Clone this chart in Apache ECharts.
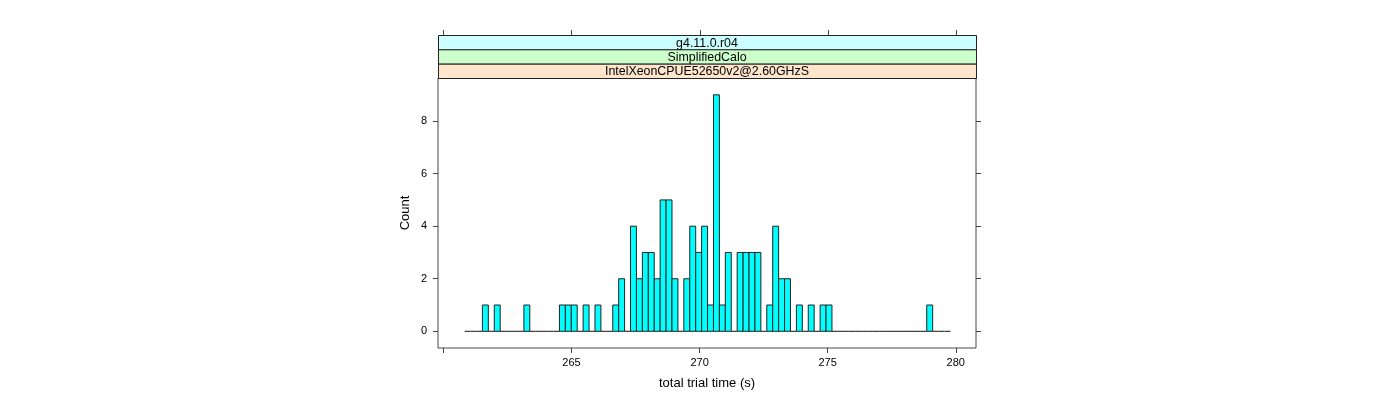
<!DOCTYPE html>
<html>
<head>
<meta charset="utf-8">
<script src="https://cdn.jsdelivr.net/npm/echarts@6/dist/echarts.min.js"></script>
<style>
  html, body { margin: 0; padding: 0; background: #fff; }
  #chart { width: 1400px; height: 400px; }
</style>
</head>
<body>
<div id="chart"></div>
<script>
  // histogram bins: first lower edge, bin width and counts per bin
  var binStart = 260.83
  var binWidth = 0.23125
  var counts = [
    0, 0, 0, 1, 0, 1, 0, 0, 0, 0,
    1, 0, 0, 0, 0, 0, 1, 1, 1, 0,
    1, 0, 1, 0, 0, 1, 2, 0, 4, 2,
    3, 3, 2, 5, 5, 2, 0, 2, 4, 3,
    4, 1, 9, 1, 3, 0, 3, 3, 3, 3,
    0, 1, 4, 2, 2, 0, 1, 0, 1, 0,
    1, 1, 0, 0, 0, 0, 0, 0, 0, 0,
    0, 0, 0, 0, 0, 0, 0, 0, 1, 0,
    0, 0
  ]
  var xTicks = [260, 265, 270, 275, 280]
  var xLabels = [265, 270, 275, 280]
  var yTicks = [0, 2, 4, 6, 8]
  // strip labels, top to bottom
  var strips = ['g4.11.0.r04', 'SimplifiedCalo', 'IntelXeonCPUE52650v2@2.60GHzS']
  var stripColors = ['#ccffff', '#ccffcc', '#ffe5cc']

  var bins = counts.map(function (c, i) {
    var lo = binStart + i * binWidth
    return [lo, lo + binWidth, c]
  })

  var font = 'Liberation Sans, Arial, Helvetica, sans-serif'
  var lineCol = '#444'

  // panel geometry
  var gLeft = 438, gTop = 78, gWidth = 538, gHeight = 270
  var stripTop = 35, stripH = (gTop - stripTop) / 3

  var graphics = []
  strips.forEach(function (s, i) {
    graphics.push({
      type: 'rect',
      shape: { x: gLeft + 0.5, y: stripTop + i * stripH + 0.5, width: gWidth, height: stripH },
      style: { fill: stripColors[i], stroke: '#222', lineWidth: 1 },
      z: 1
    })
    graphics.push({
      type: 'text',
      x: gLeft + gWidth / 2,
      y: stripTop + i * stripH + stripH / 2 + 1,
      style: { text: s, fill: '#000', font: '12.4px ' + font, textAlign: 'center', textVerticalAlign: 'middle' },
      z: 2
    })
  })

  var tickStyle = { show: true, length: 5, inside: false, lineStyle: { color: lineCol } }
  var noLine = { show: false, onZero: false }
  var xMin = 259.79, xMax = 280.79
  var yMin = -0.636, yMax = 9.64

  var chart = echarts.init(document.getElementById('chart'))
  chart.setOption({
    animation: false,
    grid: {
      left: gLeft, top: gTop, width: gWidth, height: gHeight,
      show: true, borderColor: lineCol, borderWidth: 1, backgroundColor: 'transparent'
    },
    xAxis: {
      type: 'value', min: xMin, max: xMax, position: 'bottom',
      axisLine: noLine,
      splitLine: { show: false },
      axisTick: Object.assign({ customValues: xTicks }, tickStyle),
      axisLabel: { customValues: xLabels, margin: 9, color: '#000', fontSize: 11, fontFamily: font },
      name: 'total trial time (s)', nameLocation: 'middle', nameGap: 29,
      nameTextStyle: { color: '#000', fontSize: 13, fontFamily: font }
    },
    yAxis: [
      {
        type: 'value', min: yMin, max: yMax, position: 'left',
        axisLine: noLine,
        splitLine: { show: false },
        axisTick: Object.assign({ customValues: yTicks }, tickStyle),
        axisLabel: { customValues: yTicks, margin: 11, color: '#000', fontSize: 11, fontFamily: font },
        name: 'Count', nameLocation: 'middle', nameGap: 26, nameRotate: 90,
        nameTextStyle: { color: '#000', fontSize: 13, fontFamily: font }
      },
      {
        type: 'value', min: yMin, max: yMax, position: 'right',
        axisLine: noLine,
        splitLine: { show: false },
        axisTick: Object.assign({ customValues: yTicks }, tickStyle),
        axisLabel: { show: false }
      }
    ],
    graphic: graphics,
    series: [
      {
        type: 'custom',
        xAxisIndex: 0,
        yAxisIndex: 0,
        clip: false,
        data: bins,
        renderItem: function (params, api) {
          var p0 = api.coord([api.value(0), 0])
          var p1 = api.coord([api.value(1), api.value(2)])
          if (api.value(2) === 0) {
            return {
              type: 'line',
              shape: { x1: p0[0], y1: p0[1], x2: p1[0], y2: p0[1] },
              style: { stroke: '#111', lineWidth: 1 }
            }
          }
          return {
            type: 'rect',
            shape: { x: p0[0], y: p1[1], width: p1[0] - p0[0], height: p0[1] - p1[1] },
            style: { fill: '#00ffff', stroke: '#222', lineWidth: 1 }
          }
        }
      },
      {
        // top tick marks above the strips, placed with the x scale
        type: 'custom',
        xAxisIndex: 0,
        yAxisIndex: 0,
        clip: false,
        silent: true,
        z: 20,
        encode: { x: 0, y: 1 },
        data: xTicks.map(function (v) { return [v, yMax] }),
        renderItem: function (params, api) {
          var p = api.coord([api.value(0), api.value(1)])
          var x = Math.round(p[0]) + 0.5
          var y = p[1] - (gTop - stripTop)
          return {
            type: 'line',
            shape: { x1: x, y1: y, x2: x, y2: y - 5 },
            style: { stroke: lineCol, lineWidth: 1 }
          }
        }
      }
    ]
  })
</script>
</body>
</html>
